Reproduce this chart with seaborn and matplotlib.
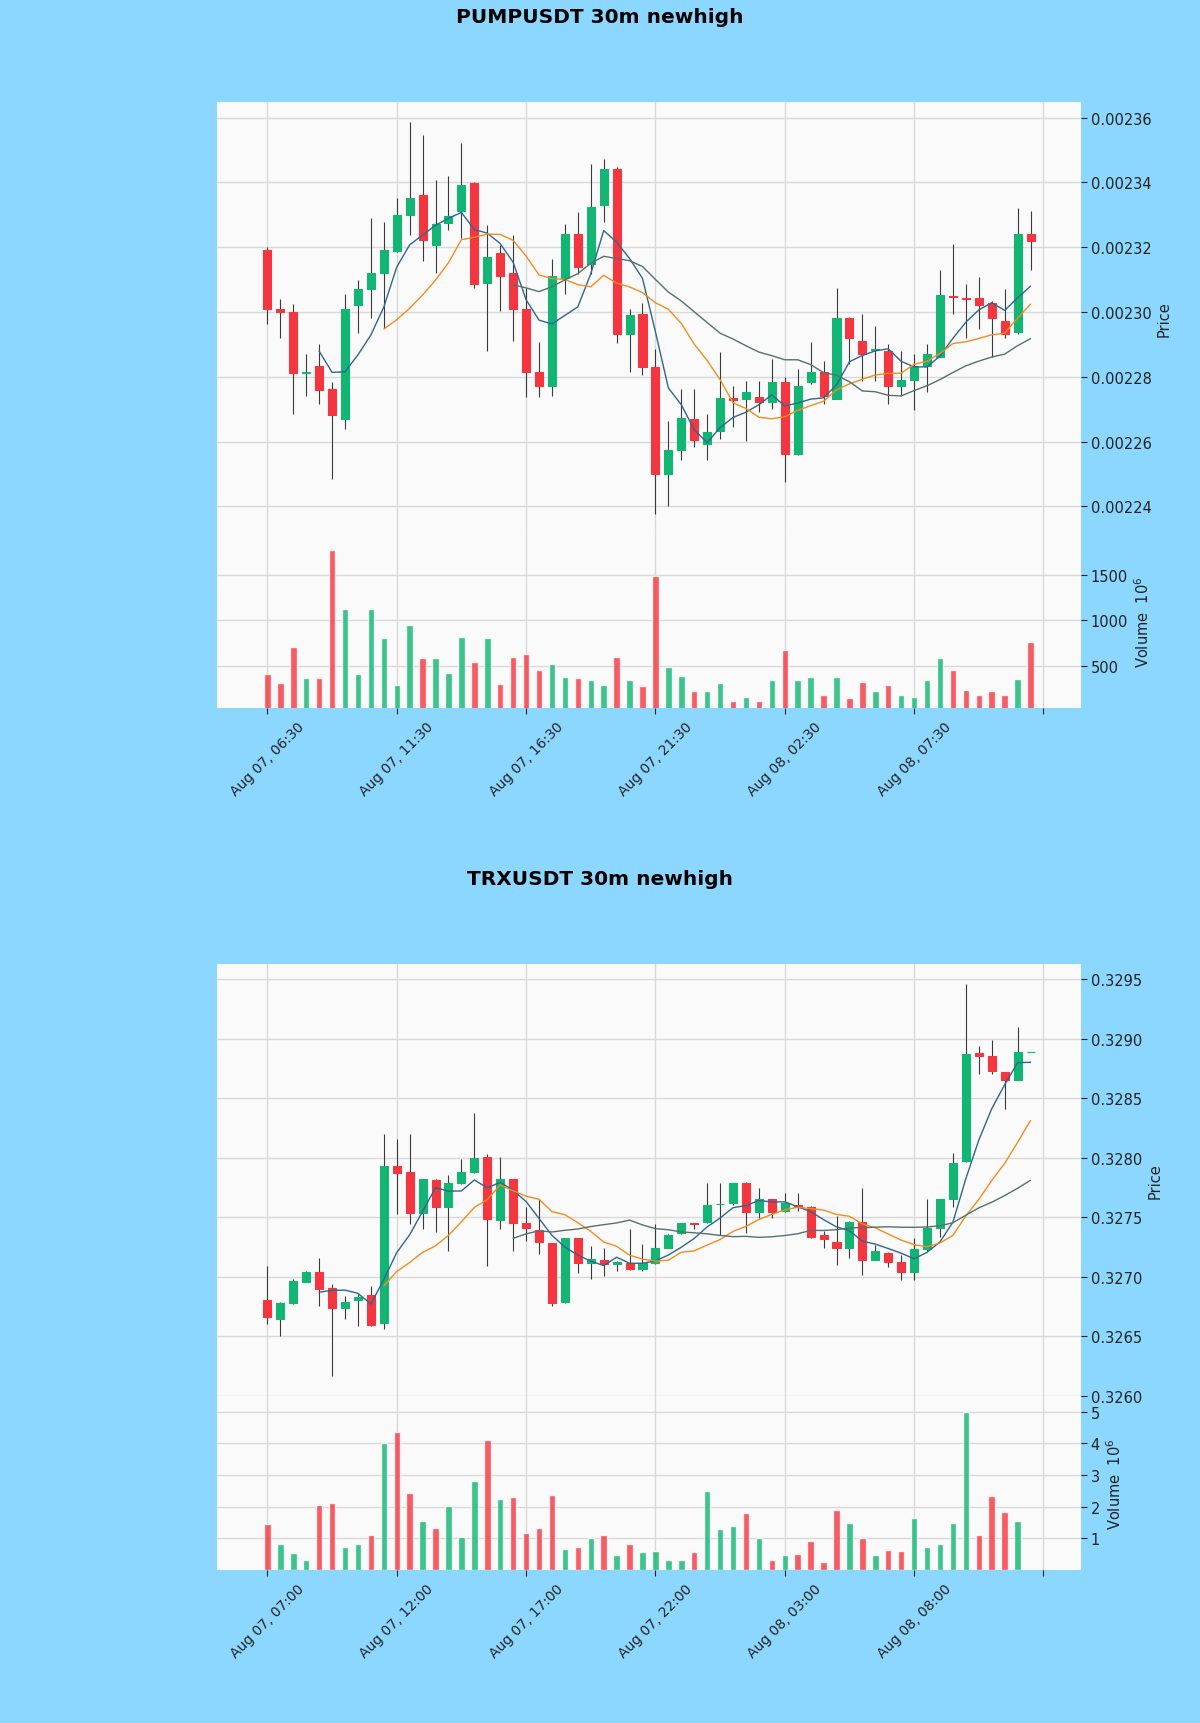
import numpy as np
import pandas as pd
import matplotlib
matplotlib.use('Agg')
import matplotlib.pyplot as plt
from matplotlib.ticker import MultipleLocator, FormatStrFormatter
import seaborn as sns

# ---- PUMPUSDT 30m ----
pump_title = 'PUMPUSDT 30m newhigh'
pump_open = [0.0023190, 0.0023010, 0.0023001, 0.0022812, 0.0022834, 0.0022762, 0.0022670, 0.0023020, 0.0023070, 0.0023121,
             0.0023189, 0.0023298, 0.0023361, 0.0023208, 0.0023274, 0.0023310, 0.0023399, 0.0023090, 0.0023182, 0.0023121,
             0.0023008, 0.0022814, 0.0022773, 0.0023105, 0.0023242, 0.0023149, 0.0023329, 0.0023441, 0.0022931, 0.0022993,
             0.0022831, 0.0022501, 0.0022573, 0.0022670, 0.0022592, 0.0022634, 0.0022735, 0.0022732, 0.0022739, 0.0022722,
             0.0022783, 0.0022563, 0.0022783, 0.0022814, 0.0022732, 0.0022982, 0.0022911, 0.0022883, 0.0022880, 0.0022773,
             0.0022790, 0.0022834, 0.0022862, 0.0023050, 0.0023044, 0.0023042, 0.0023029, 0.0022972, 0.0022938, 0.0023241]
pump_high = [0.0023200, 0.0023039, 0.0023025, 0.0022870, 0.0022901, 0.0022783, 0.0023054, 0.0023100, 0.0023290, 0.0023277,
             0.0023351, 0.0023587, 0.0023546, 0.0023407, 0.0023418, 0.0023520, 0.0023400, 0.0023269, 0.0023208, 0.0023239,
             0.0023075, 0.0022906, 0.0023162, 0.0023271, 0.0023308, 0.0023456, 0.0023472, 0.0023447, 0.0023008, 0.0023029,
             0.0022885, 0.0022665, 0.0022762, 0.0022762, 0.0022686, 0.0022875, 0.0022773, 0.0022788, 0.0022788, 0.0022854,
             0.0022800, 0.0022824, 0.0022906, 0.0022849, 0.0023075, 0.0022985, 0.0022993, 0.0022957, 0.0022901, 0.0022880,
             0.0022870, 0.0022900, 0.0023131, 0.0023210, 0.0023087, 0.0023107, 0.0023034, 0.0023070, 0.0023320, 0.0023310]
pump_low = [0.0022962, 0.0022920, 0.0022686, 0.0022742, 0.0022716, 0.0022486, 0.0022639, 0.0022936, 0.0022982, 0.0022952,
            0.0023185, 0.0023239, 0.0023157, 0.0023121, 0.0023254, 0.0023228, 0.0023075, 0.0022880, 0.0023003, 0.0022911,
            0.0022737, 0.0022737, 0.0022742, 0.0023054, 0.0023116, 0.0023116, 0.0023279, 0.0022903, 0.0022814, 0.0022804,
            0.0022375, 0.0022400, 0.0022542, 0.0022583, 0.0022542, 0.0022608, 0.0022645, 0.0022603, 0.0022691, 0.0022700,
            0.0022474, 0.0022560, 0.0022778, 0.0022716, 0.0022730, 0.0022838, 0.0022787, 0.0022788, 0.0022716, 0.0022742,
            0.0022696, 0.0022752, 0.0022860, 0.0022993, 0.0022921, 0.0022946, 0.0022860, 0.0022921, 0.0022931, 0.0023131]
pump_close = [0.0023010, 0.0023001, 0.0022811, 0.0022814, 0.0022759, 0.0022683, 0.0023010, 0.0023072, 0.0023121, 0.0023190,
              0.0023300, 0.0023353, 0.0023223, 0.0023271, 0.0023297, 0.0023392, 0.0023087, 0.0023169, 0.0023110, 0.0023008,
              0.0022814, 0.0022773, 0.0023110, 0.0023242, 0.0023139, 0.0023324, 0.0023441, 0.0022931, 0.0022991, 0.0022831,
              0.0022501, 0.0022573, 0.0022672, 0.0022606, 0.0022631, 0.0022734, 0.0022729, 0.0022753, 0.0022722, 0.0022783,
              0.0022563, 0.0022773, 0.0022814, 0.0022742, 0.0022982, 0.0022921, 0.0022870, 0.0022885, 0.0022773, 0.0022790,
              0.0022834, 0.0022870, 0.0023052, 0.0023047, 0.0023039, 0.0023023, 0.0022982, 0.0022933, 0.0023241, 0.0023220]
pump_volume = [408, 309, 702, 368, 368, 1768, 1125, 408, 1125, 805,
               290, 941, 581, 585, 419, 813, 544, 805, 298, 592,
               629, 456, 518, 379, 364, 342, 287, 599, 346, 276,
               1485, 482, 390, 224, 224, 309, 110, 151, 110, 346,
               673, 346, 375, 180, 375, 143, 320, 224, 287, 176,
               158, 346, 585, 452, 232, 176, 221, 176, 357, 761]
pump_xlabels = ['Aug 07, 06:30', 'Aug 07, 11:30', 'Aug 07, 16:30', 'Aug 07, 21:30',
                'Aug 08, 02:30', 'Aug 08, 07:30', '']

# ---- TRXUSDT 30m ----
trx_title = 'TRXUSDT 30m newhigh'
trx_open = [0.326804, 0.326646, 0.326776, 0.326959, 0.327044, 0.326908, 0.326739, 0.326804, 0.326844, 0.326613,
            0.327931, 0.327880, 0.327537, 0.327815, 0.327585, 0.327787, 0.327880, 0.328007, 0.327480, 0.327818,
            0.327452, 0.327393, 0.327280, 0.326790, 0.327323, 0.327114, 0.327139, 0.327106, 0.327114, 0.327063,
            0.327120, 0.327246, 0.327368, 0.327449, 0.327458, 0.327613, 0.327618, 0.327790, 0.327542, 0.327652,
            0.327556, 0.327604, 0.327590, 0.327351, 0.327292, 0.327241, 0.327463, 0.327142, 0.327204, 0.327128,
            0.327044, 0.327232, 0.327410, 0.327652, 0.327970, 0.328877, 0.328852, 0.328723, 0.328655, 0.328890]
trx_high = [0.327092, 0.326785, 0.326980, 0.327050, 0.327162, 0.326937, 0.326838, 0.326866, 0.326923, 0.328196,
            0.328162, 0.328196, 0.327820, 0.327820, 0.327852, 0.327993, 0.328373, 0.328035, 0.328007, 0.327820,
            0.327585, 0.327655, 0.327280, 0.327325, 0.327325, 0.327261, 0.327246, 0.327130, 0.327401, 0.327275,
            0.327444, 0.327360, 0.327455, 0.327452, 0.327790, 0.327790, 0.327790, 0.327795, 0.327750, 0.327655,
            0.327708, 0.327708, 0.327595, 0.327387, 0.327508, 0.327465, 0.327745, 0.327269, 0.327210, 0.327185,
            0.327325, 0.327652, 0.327655, 0.328041, 0.329463, 0.328937, 0.328993, 0.328725, 0.329097, 0.328890]
trx_low = [0.326599, 0.326506, 0.326770, 0.326955, 0.326754, 0.326162, 0.326641, 0.326585, 0.326585, 0.326562,
           0.327528, 0.327444, 0.327401, 0.327373, 0.327218, 0.327780, 0.327870, 0.327092, 0.327401, 0.327218,
           0.327303, 0.327190, 0.326754, 0.326782, 0.327035, 0.326979, 0.327007, 0.327049, 0.327058, 0.327050,
           0.327110, 0.327240, 0.327360, 0.327401, 0.327455, 0.327355, 0.327600, 0.327369, 0.327495, 0.327492,
           0.327545, 0.327556, 0.327330, 0.327246, 0.327100, 0.327156, 0.327015, 0.327140, 0.327080, 0.326970,
           0.326970, 0.327220, 0.327337, 0.327590, 0.327965, 0.328703, 0.328703, 0.328407, 0.328650, 0.328890]
trx_close = [0.326661, 0.326782, 0.326965, 0.327044, 0.326900, 0.326739, 0.326790, 0.326832, 0.326593, 0.327931,
             0.327872, 0.327537, 0.327818, 0.327585, 0.327787, 0.327880, 0.327999, 0.327486, 0.327818, 0.327452,
             0.327407, 0.327289, 0.326776, 0.327323, 0.327120, 0.327148, 0.327106, 0.327125, 0.327069, 0.327120,
             0.327246, 0.327354, 0.327452, 0.327440, 0.327607, 0.327615, 0.327790, 0.327542, 0.327650, 0.327548,
             0.327618, 0.327585, 0.327337, 0.327314, 0.327241, 0.327463, 0.327142, 0.327213, 0.327128, 0.327044,
             0.327232, 0.327410, 0.327652, 0.327956, 0.328872, 0.328852, 0.328731, 0.328655, 0.328886, 0.328890]
trx_volume = [1.45, 0.81, 0.54, 0.33, 2.06, 2.12, 0.72, 0.81, 1.10, 4.02,
              4.35, 2.44, 1.55, 1.34, 2.03, 1.04, 2.80, 4.09, 2.24, 2.30,
              1.16, 1.34, 2.38, 0.68, 0.73, 1.00, 1.10, 0.47, 0.81, 0.56,
              0.60, 0.33, 0.31, 0.57, 2.49, 1.31, 1.39, 1.80, 1.00, 0.33,
              0.47, 0.52, 0.91, 0.26, 1.90, 1.50, 1.00, 0.47, 0.65, 0.62,
              1.63, 0.72, 0.81, 1.50, 4.99, 1.10, 2.35, 1.84, 1.55, 0.01]
trx_xlabels = ['Aug 07, 07:00', 'Aug 07, 12:00', 'Aug 07, 17:00', 'Aug 07, 22:00',
               'Aug 08, 03:00', 'Aug 08, 08:00', '']

mav_windows = [5, 10, 20]
mav_colors = ['#2f6690', '#f48c1d', '#55706e']
up_color = '#12b573'
down_color = '#f3363f'
bg_color = '#8cd7ff'
face_color = '#fafafa'
grid_color = '#d9d9d9'

sns.set_theme(style='white')
plt.rcParams['font.family'] = ['DejaVu Sans']


def style_axis(ax):
    ax.set_facecolor(face_color)
    for s in ax.spines.values():
        s.set_visible(False)
    ax.grid(True, color=grid_color, lw=1.0)
    ax.set_axisbelow(True)
    ax.yaxis.tick_right()
    ax.yaxis.set_label_position('right')
    ax.tick_params(axis='y', which='major', direction='out', length=4, width=0.8,
                   colors='#222222', labelsize=10.5, right=True, left=False, pad=3)


def draw_chart(fig, bottom, title, o, h, l, c, v, xlabels, price_step, price_fmt, vol_step):
    o, h, l, c, v = map(np.asarray, (o, h, l, c, v))
    n = len(o)
    idx = np.arange(n)
    up = c >= o
    colors = np.where(up, up_color, down_color)

    left, width = 0.1808, 0.72
    vol_h, price_h = 0.1009, 0.2506
    ax_v = fig.add_axes([left, bottom, width, vol_h])
    ax_p = fig.add_axes([left, bottom + vol_h, width, price_h], sharex=ax_v)
    style_axis(ax_p)
    style_axis(ax_v)

    # wicks + bodies
    ax_p.vlines(idx, l, h, color='#3a3a3a', lw=0.8, zorder=2)
    ax_p.bar(idx, np.abs(c - o), bottom=np.minimum(o, c), width=0.62,
             color=colors, edgecolor=colors, linewidth=0.8, zorder=3)

    # moving averages
    closes = pd.Series(c)
    for w, col in zip(mav_windows, mav_colors):
        ma = pd.DataFrame({'x': idx, 'y': closes.rolling(w).mean()}).dropna()
        sns.lineplot(data=ma, x='x', y='y', ax=ax_p, color=col, lw=1.0, zorder=4)

    rng = h.max() - l.min()
    ax_p.set_ylim(l.min() - 0.05 * rng, h.max() + 0.05 * rng)
    ax_p.yaxis.set_major_locator(MultipleLocator(price_step))
    ax_p.yaxis.set_major_formatter(FormatStrFormatter(price_fmt))
    ax_p.set_ylabel('Price', fontsize=10.5, color='#222222')
    ax_p.set_xlabel('')
    ax_p.tick_params(axis='x', which='both', bottom=False, labelbottom=False)

    # volume
    ax_v.bar(idx, v, width=0.5, color=colors, alpha=0.8, zorder=3)
    ax_v.set_ylim(0.3 * v.min(), 1.1 * v.max())
    ax_v.yaxis.set_major_locator(MultipleLocator(vol_step))
    ax_v.set_ylabel('Volume  $10^{6}$', fontsize=10.5, color='#222222')

    ax_v.set_xlim(-3.9, n + 2.9)
    ticks = np.arange(0, n + 1, 10)
    ax_v.set_xticks(ticks)
    ax_v.set_xticklabels(xlabels, rotation=45, ha='center', fontsize=10, color='#222222')
    ax_v.tick_params(axis='x', direction='out', length=4, width=0.8, colors='#222222', bottom=True, pad=4)

    fig.text(0.5, bottom + vol_h + price_h + 0.0497, title, ha='center', va='center',
             fontsize=14.5, fontweight='bold', color='black')


fig = plt.figure(figsize=(12, 17.24), dpi=100, facecolor=bg_color)
draw_chart(fig, 0.5887, pump_title, pump_open, pump_high, pump_low, pump_close, pump_volume,
           pump_xlabels, 0.00002, '%.5f', 500)
draw_chart(fig, 0.0887, trx_title, trx_open, trx_high, trx_low, trx_close, trx_volume,
           trx_xlabels, 0.0005, '%.4f', 1)

fig.savefig('out.png', dpi=100, facecolor=bg_color)
